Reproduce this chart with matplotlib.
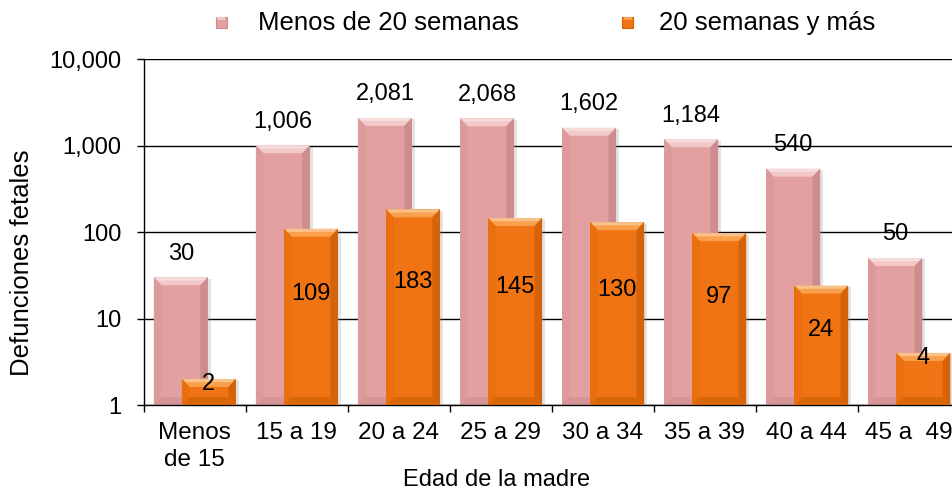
import matplotlib
matplotlib.use("Agg")
import matplotlib.pyplot as plt
import numpy as np
from matplotlib.patches import Polygon, Rectangle
import matplotlib.patheffects as pe
from matplotlib.ticker import FuncFormatter

# ---- data ----
categories = ["Menos\nde 15", "15 a 19", "20 a 24", "25 a 29",
              "30 a 34", "35 a 39", "40 a 44", "45 a  49"]
menos20 = [30, 1006, 2081, 2068, 1602, 1184, 540, 50]
mas20 = [2, 109, 183, 145, 130, 97, 24, 4]
series_names = ["Menos de 20 semanas", "20 semanas y más"]
y_ticks = [1, 10, 100, 1000, 10000]
xlabel = "Edad de la madre"
ylabel = "Defunciones fetales"

plt.rcParams['font.family'] = ['Liberation Sans', 'DejaVu Sans']

W, H = 953, 494
fig = plt.figure(figsize=(W / 100, H / 100), dpi=100)
ax = fig.add_axes([143.6 / W, 1 - 405 / H, 816.4 / W, 346 / H])
ax.set_yscale('log')
ax.set_ylim(y_ticks[0], y_ticks[-1])
ax.set_xlim(-0.5, len(categories) - 0.5)

pink = dict(base='#E3A0A1', top='#F2C8C9', left='#DC9A9C', right='#CD8C8E', bottom='#D69496')
orange = dict(base='#F07413', top='#F8A04C', left='#EA6F0F', right='#D4630A', bottom='#DA660A')

px_per_dec = 346 / 4.0
bx = 0.075
f = 10 ** (8 / px_per_dec)


def bevel_bar(xc, w, v, c, z):
    x0, x1 = xc - w / 2, xc + w / 2
    y0 = 1.0
    main = Rectangle((x0, y0), w, v - y0, facecolor=c['base'], edgecolor='none', zorder=z)
    main.set_path_effects([pe.SimplePatchShadow(offset=(2, -1), shadow_rgbFace='#909090', alpha=0.25),
                           pe.Normal()])
    ax.add_patch(main)
    polys = [
        ([(x0, v), (x1, v), (x1 - bx, v / f), (x0 + bx, v / f)], c['top']),
        ([(x0, y0), (x0, v), (x0 + bx, v / f), (x0 + bx, y0 * f)], c['left']),
        ([(x1, y0), (x1, v), (x1 - bx, v / f), (x1 - bx, y0 * f)], c['right']),
        ([(x0, y0), (x1, y0), (x1 - bx, y0 * f), (x0 + bx, y0 * f)], c['bottom']),
    ]
    for pts, col in polys:
        ax.add_patch(Polygon(pts, closed=True, facecolor=col, edgecolor='none', zorder=z + 0.1))
    # highlight strip along the very top
    ax.add_patch(Polygon([(x0 + 0.01, v), (x1 - 0.01, v), (x1 - 0.035, v / f ** 0.4), (x0 + 0.035, v / f ** 0.4)],
                         closed=True, facecolor='white', alpha=0.35, edgecolor='none', zorder=z + 0.2))


w = 0.53
off_p, off_o = -0.135, 0.14
x = np.arange(len(categories))
for i in range(len(categories)):
    bevel_bar(x[i] + off_p, w, menos20[i], pink, 2)
for i in range(len(categories)):
    bevel_bar(x[i] + off_o, w, mas20[i], orange, 3)

# data labels
for i, v in enumerate(menos20):
    ax.annotate(f"{v:,}", (x[i] + off_p, v), xytext=(0, 17), textcoords='offset points',
                ha='center', va='center', fontsize=17, zorder=6)
for i, v in enumerate(mas20):
    ly = v ** 0.63 if v > 10 else v / 1.15
    ax.text(x[i] + off_o, ly, f"{v:,}", ha='center', va='center', fontsize=17, zorder=6)

# axes styling
ax.set_axisbelow(True)
ax.yaxis.grid(True, which='major', color='black', linewidth=1.0)
ax.xaxis.grid(False)
ax.minorticks_off()
ax.set_yticks(y_ticks)
ax.yaxis.set_major_formatter(FuncFormatter(lambda val, pos: f"{int(round(val)):,}"))
ax.tick_params(axis='y', which='major', length=5, width=1, pad=11, labelsize=17, color='black')
ax.set_xticks(np.arange(-0.5, len(categories), 1.0))
ax.set_xticklabels([])
ax.set_xticks(x, minor=True)
ax.set_xticklabels(categories, minor=True, fontsize=17.5, linespacing=1.3)
ax.tick_params(axis='x', which='major', length=5, width=1, direction='out')
ax.tick_params(axis='x', which='minor', length=0, pad=12)
for s in ['top', 'right']:
    ax.spines[s].set_visible(False)
for s in ['left', 'bottom']:
    ax.spines[s].set_color('black')
    ax.spines[s].set_linewidth(1.0)

# axis labels
fig.text(22 / W, 1 - 263 / H, ylabel, rotation=90, ha='center', va='center', fontsize=18.5)
fig.text(497 / W, 1 - 480 / H, xlabel, ha='center', va='center', fontsize=17)

# legend
leg_items = [(216, 258, pink), (622, 659, orange)]
for (mx, tx, c), name in zip(leg_items, series_names):
    fig.add_artist(Rectangle((mx / W, 1 - 28 / H), 11 / W, 11 / H, transform=fig.transFigure,
                             facecolor=c['base'], edgecolor=c['right'], linewidth=0.8))
    fig.add_artist(Rectangle((mx / W + 1.5 / W, 1 - 20 / H), 8 / W, 3 / H, transform=fig.transFigure,
                             facecolor=c['top'], edgecolor='none'))
    fig.text(tx / W, 1 - 23 / H, name, ha='left', va='center', fontsize=18.5)

fig.savefig("out.png", dpi=100)
